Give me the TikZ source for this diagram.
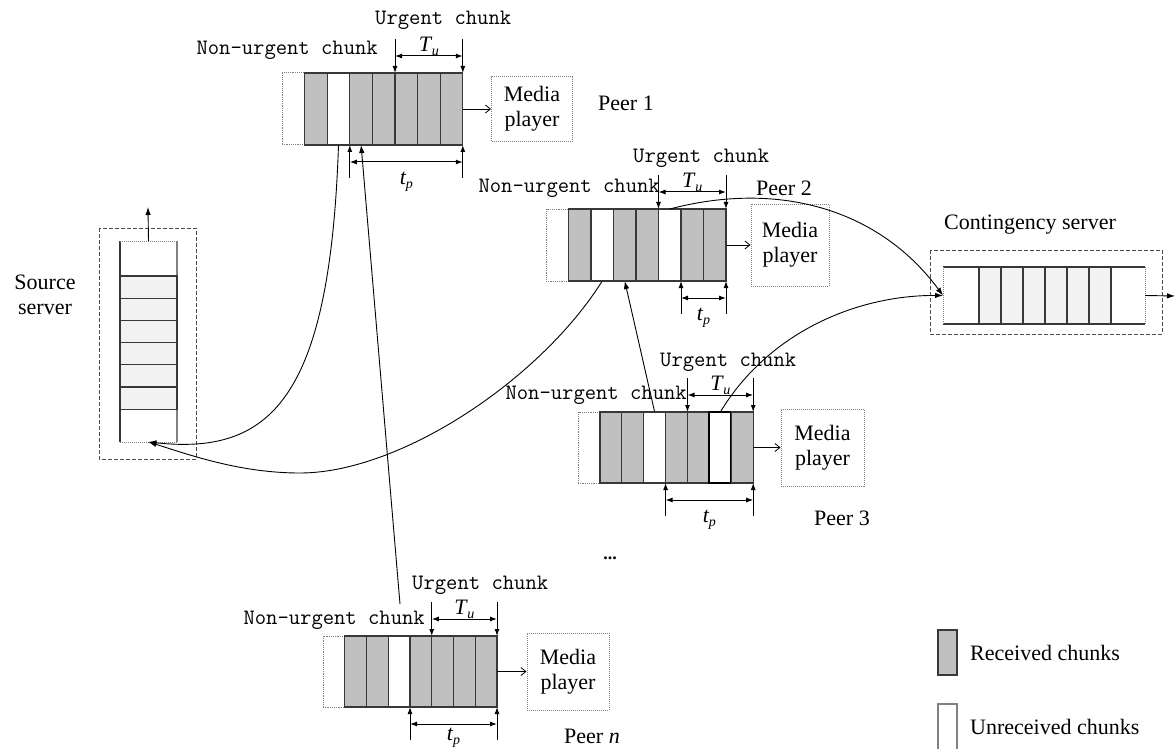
\documentclass[tikz,border=0pt]{standalone}
\usepackage{fontspec}
\setmainfont{Liberation Serif}
\usetikzlibrary{arrows.meta}

\definecolor{recv}{HTML}{C0C0C0}
\definecolor{held}{HTML}{F2F2F2}
\definecolor{edge}{HTML}{383838}

% one row of buffer slots: prefix, left x, top y, slot width, height, slot styles
\newcommand\chunkrow[6]{%
  \foreach \s [count=\i] in {#6}{%
    \node[\s, minimum width=#4pt, minimum height=#5pt] (#1-\i) at ({#2+(\i-1)*#4}, #3) {};
  }%
}

% urgent window and playback window markers above and below a peer buffer
\newcommand\windowmarks[4]{% prefix, first urgent slot, first playback slot, playback label offset
  \draw[tick] ([yshift=34pt]#1-#2.north west) -- (#1-#2.north west);
  \draw[tick] ([yshift=34pt]#1-8.north east) -- (#1-8.north east);
  \draw[span] ([yshift=17pt]#1-#2.north west) -- ([yshift=17pt]#1-8.north east)
     node[midway, yshift=10pt, mathlbl] {\textit{T}\kern-0.5pt\raisebox{-4pt}{\fontsize{14}{14}\selectfont\textit{u}}};
  \draw[tick] ([yshift=-33pt]#1-#3.south west) -- (#1-#3.south west);
  \draw[tick] ([yshift=-33pt]#1-8.south east) -- (#1-8.south east);
  \draw[span] ([yshift=-17pt]#1-#3.south west) -- ([yshift=-17pt]#1-8.south east)
     node[midway, yshift=#4, mathlbl] {\textit{t}\kern-0.5pt\raisebox{-4pt}{\fontsize{14}{14}\selectfont\textit{p}}};
}

\begin{document}
\begin{tikzpicture}[x=1pt, y=-1pt,
  slot/.style={rectangle, inner sep=0pt, outer sep=0pt, anchor=north west, line width=1.2pt, draw=edge},
  slotg/.style={slot, fill=recv},
  slotw/.style={slot, fill=white},
  slotb/.style={slot, fill=white, draw=black, line width=2pt},
  slotl/.style={slot, fill=white, draw=gray, densely dotted, line width=1pt},
  mono/.style={font=\fontsize{22}{22}\selectfont\ttfamily, inner sep=0pt},
  serif/.style={font=\fontsize{22}{25}\selectfont, inner sep=0pt},
  mathlbl/.style={font=\fontsize{22}{22}\selectfont, inner sep=0pt},
  player/.style={rectangle, draw=gray, densely dotted, line width=1pt, inner sep=0pt,
    align=center, font=\fontsize{22}{25}\selectfont},
  feed/.style={line width=0.8pt, -{Straight Barb[length=5pt,width=8pt,line width=0.8pt]}},
  tick/.style={line width=1pt, -{Latex[length=7pt,width=5pt]}},
  span/.style={line width=1pt, {Latex[length=7pt,width=5pt]}-{Latex[length=7pt,width=5pt]}},
  conn/.style={line width=0.9pt, -{Latex[length=8pt,width=5.5pt]}},
  dashbox/.style={draw=black!70, line width=1pt, dash pattern=on 4pt off 2pt},
]
\useasboundingbox (0,0) rectangle (1176,749);

% ---------------- source server ----------------
\draw[dashbox] (99,228) rectangle (196,459);
\node[slot, draw=none, fill=white, minimum width=57pt, minimum height=35pt] (src-top) at (120,241) {};
\node[slot, draw=none, fill=white, minimum width=57pt, minimum height=33pt] (src-bot) at (120,409) {};
\draw[edge, line width=1.2pt] (src-top.north west) -- (src-bot.south west);
\draw[gray, line width=1.2pt] (src-top.north east) -- (src-bot.south east);
\draw[gray, densely dotted, line width=1pt] (src-top.north west) -- (src-top.north east);
\draw[gray, densely dotted, line width=1pt] (src-bot.south west) -- (src-bot.south east);
\foreach \i in {1,...,6}
  \node[slot, fill=held, minimum width=57pt, minimum height=22.2pt] (src-\i) at (120,{276+(\i-1)*22.2}) {};
\node[serif, align=center] (src-lbl) at (45,295) {Source\\server};
\coordinate (src-exit) at (148,207);
\draw[conn] (src-top.north) -- (src-exit);

% ---------------- contingency server ----------------
\draw[dashbox] (930,250) rectangle (1162,334);
\node[slot, draw=none, fill=white, minimum width=36pt, minimum height=57pt] (cs-in) at (943,267) {};
\node[slot, draw=none, fill=white, minimum width=34pt, minimum height=57pt] (cs-out) at (1111,267) {};
\draw[edge, line width=1.2pt] (cs-in.north west) -- (cs-out.north east);
\draw[edge, line width=1.2pt] (cs-in.south west) -- (cs-out.south east);
\draw[gray, densely dotted, line width=1pt] (cs-in.north west) -- (cs-in.south west);
\draw[gray, densely dotted, line width=1pt] (cs-out.north east) -- (cs-out.south east);
\foreach \i in {1,...,6}
  \node[slot, fill=held, minimum width=22pt, minimum height=57pt] (cs-\i) at ({979+(\i-1)*22},267) {};
\node[serif] (cs-lbl) at (1030,225) {Contingency server};
\coordinate (cs-exit) at (1175,296);
\draw[conn] (cs-out.east) -- (cs-exit);

% ---------------- peer 1 ----------------
\chunkrow{pa}{282}{73}{22.6}{72}{slotl,slotg,slotw,slotg,slotg,slotg,slotg,slotg}
\windowmarks{pa}{6}{4}{-20pt}
\node[mono, anchor=west] (pa-urg) at (375,20) {Urgent chunk};
\node[mono, anchor=east] (pa-non) at (378,50) {Non-urgent chunk};
\node[player, minimum width=81pt, minimum height=65pt] (pa-mp) at (532,109) {Media\\player};
\draw[feed] (pa-8.east) -- (pa-mp.west);
\node[serif] (pa-lbl) at (626,103) {Peer 1};

% ---------------- peer 2 ----------------
\chunkrow{pb}{546}{209}{22.5}{72}{slotl,slotg,slotw,slotg,slotg,slotw,slotg,slotg}
\windowmarks{pb}{6}{7}{-20pt}
\node[mono, anchor=west] (pb-urg) at (633,158) {Urgent chunk};
\node[mono, anchor=east] (pb-non) at (660,188) {Non-urgent chunk};
\node[player, minimum width=78pt, minimum height=82pt] (pb-mp) at (790,245) {Media\\player};
\draw[feed] (pb-8.east) -- (pb-mp.west);
\node[serif] (pb-lbl) at (784,188) {Peer 2};

% ---------------- peer 3 ----------------
\chunkrow{pc}{578}{412}{21.9}{71}{slotl,slotg,slotg,slotw,slotg,slotg,slotb,slotg}
\windowmarks{pc}{6}{5}{-20pt}
\node[mono, anchor=west] (pc-urg) at (660,362) {Urgent chunk};
\node[mono, anchor=east] (pc-non) at (687,395) {Non-urgent chunk};
\node[player, minimum width=83pt, minimum height=77pt] (pc-mp) at (822.5,447.5) {Media\\player};
\draw[feed] (pc-8.east) -- (pc-mp.west);
\node[serif] (pc-lbl) at (842,518) {Peer 3};

% ---------------- peer n ----------------
\chunkrow{pn}{323}{636}{21.75}{71}{slotl,slotg,slotg,slotw,slotg,slotg,slotg,slotg}
\windowmarks{pn}{6}{5}{-14pt}
\node[mono, anchor=west] (pn-urg) at (412,585) {Urgent chunk};
\node[mono, anchor=east] (pn-non) at (425,620) {Non-urgent chunk};
\node[player, minimum width=82pt, minimum height=77pt] (pn-mp) at (568,671.5) {Media\\player};
\draw[feed] (pn-8.east) -- (pn-mp.west);
\node[serif] (pn-lbl) at (592,736) {Peer \textit{n}};

\node[font=\fontsize{18}{18}\selectfont\bfseries, inner sep=0pt] (more) at (610,558) {...};

% ---------------- chunk requests ----------------
\coordinate (pn-req) at (400,604);
\draw[conn] (pa-3.south) .. controls (330,400) and (270,455) .. (src-bot.south);
\draw[conn] (pb-3.south) .. controls (540,380) and (400,473) .. (300,473)
                         .. controls (240,473) and (190,455) .. (src-bot.south);
\draw[conn] (pn-req) -- (pa-4.south);
\draw[conn] (pc-4.north) -- (pb-4.south);
\draw[conn] (pb-6.north) .. controls (780,180) and (880,210) .. (cs-in.west);
\draw[conn] (pc-7.north) .. controls (770,330) and (860,295) .. (cs-in.west);

% ---------------- legend ----------------
\node[slot, fill=recv, minimum width=19pt, minimum height=45pt] (leg-recv) at (938,630) {};
\node[serif, anchor=west] (leg-recv-lbl) at (970,653) {Received chunks};
\node[slot, fill=white, draw=gray, minimum width=19pt, minimum height=55pt] (leg-miss) at (938,704) {};
\node[serif, anchor=west] (leg-miss-lbl) at (970,727) {Unreceived chunks};
\end{tikzpicture}
\end{document}
